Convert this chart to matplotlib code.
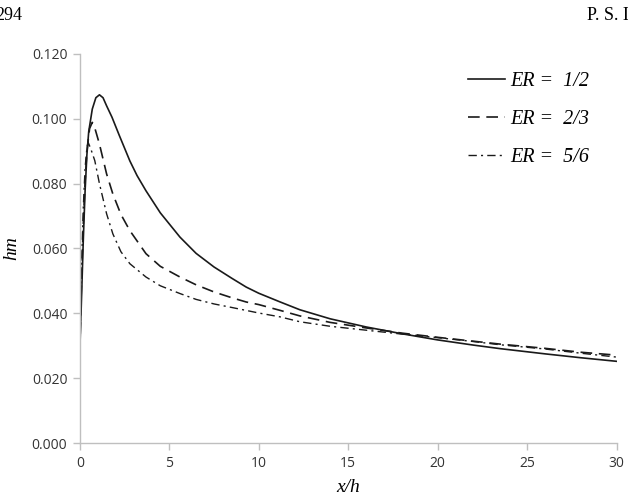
import matplotlib
matplotlib.use("Agg")
from matplotlib import pyplot as plt

# Dados (x/h, hm)
x_12 = [0, 0.1, 0.2, 0.3, 0.4, 0.5, 0.7, 0.9, 1.1, 1.3, 1.5, 1.8, 2.2, 2.8, 3.2, 3.7, 4.5,
        5.6, 6.5, 7.5, 8.5, 9.3, 10, 11.2, 12.3, 14, 16, 18, 20, 22, 23.5, 26, 28, 30]
hm_12 = [0.028, 0.045, 0.063, 0.078, 0.089, 0.096, 0.103, 0.1065, 0.1074, 0.1065, 0.104,
         0.1005, 0.095, 0.087, 0.0825, 0.0778, 0.071, 0.0635, 0.0585, 0.0543, 0.0508,
         0.0481, 0.0462, 0.0435, 0.0411, 0.0383, 0.0358, 0.0337, 0.0318, 0.0302, 0.0291,
         0.0275, 0.0263, 0.0252]

x_23 = [0, 0.1, 0.2, 0.3, 0.4, 0.55, 0.7, 0.85, 1.1, 1.5, 1.85, 2.3, 2.8, 3.7, 4.5,
        5.6, 6.5, 7.5, 8.5, 9.3, 10, 11.2, 12.3, 14, 16, 18, 20, 22, 23.5, 26, 28, 30]
hm_23 = [0.028, 0.050, 0.068, 0.081, 0.090, 0.097, 0.0989, 0.097, 0.0922, 0.083, 0.0768,
         0.0705, 0.0655, 0.0584, 0.0545, 0.0512, 0.0488, 0.0466, 0.0448, 0.0435, 0.0427,
         0.0409, 0.0392, 0.0372, 0.0355, 0.0339, 0.0326, 0.0314, 0.0305, 0.0292, 0.028,
         0.0271]

x_56 = [0, 0.1, 0.2, 0.3, 0.4, 0.47, 0.6, 0.84, 1.1, 1.5, 1.85, 2.3, 2.8, 3.7, 4.5,
        5.6, 6.5, 7.5, 8.5, 9.3, 10, 11.2, 12.3, 14, 16, 18, 20, 22, 23.5, 26, 28, 30]
hm_56 = [0.028, 0.055, 0.073, 0.085, 0.091, 0.0927, 0.091, 0.0871, 0.080, 0.0707, 0.0645,
         0.059, 0.0553, 0.0512, 0.0485, 0.0461, 0.0443, 0.0429, 0.0418, 0.0409, 0.0401,
         0.0389, 0.0374, 0.036, 0.0348, 0.0336, 0.0325, 0.0313, 0.0303, 0.029, 0.0277,
         0.0265]

xticks = [0, 5, 10, 15, 20, 25, 30]
yticks = [0.000, 0.020, 0.040, 0.060, 0.080, 0.100, 0.120]

fig = plt.figure(figsize=(6.28, 4.95), dpi=100)
ax = fig.add_axes([0.127, 0.105, 0.855, 0.786])

cor = "#1a1a1a"
ax.plot(x_12, hm_12, color=cor, lw=1.2, ls="-", label="ER =  1/2")
ax.plot(x_23, hm_23, color=cor, lw=1.2, ls=(0, (7, 4)), label="ER =  2/3")
ax.plot(x_56, hm_56, color=cor, lw=1.0, ls=(0, (6, 3, 1.5, 3)), label="ER =  5/6")

ax.set_xlim(0, 30)
ax.set_ylim(0, 0.120)
ax.set_xticks(xticks)
ax.set_yticks(yticks)
ax.set_yticklabels(["%.3f" % v for v in yticks])

# Eixos estilo Excel
for lado in ["top", "right"]:
    ax.spines[lado].set_visible(False)
for lado in ["left", "bottom"]:
    ax.spines[lado].set_color("#bfbfbf")
    ax.spines[lado].set_linewidth(1.0)
ax.tick_params(axis="both", direction="out", length=5, width=1, color="#bfbfbf",
               labelsize=10, labelcolor="#333333", pad=4)
for t in ax.get_xticklabels() + ax.get_yticklabels():
    t.set_family("Open Sans")

ax.set_xlabel("x/h", family="Liberation Serif", style="italic", fontsize=14, labelpad=6)
ax.set_ylabel("hm", family="Liberation Serif", style="italic", fontsize=14, labelpad=8)

leg = ax.legend(loc="upper left", frameon=False, handlelength=1.85, handletextpad=0.25,
                labelspacing=0.95, borderpad=0, borderaxespad=0,
                bbox_to_anchor=(0.7225, 0.955),
                prop={"family": "Liberation Serif", "style": "italic", "size": 14.5})

# Cabecalho da pagina
fig.text(-0.008, 0.985, "294", family="Liberation Serif", fontsize=13, va="top")
fig.text(0.935, 0.985, "P. S. I", family="Liberation Serif", fontsize=13, va="top")

fig.savefig("out.png", dpi=100)
